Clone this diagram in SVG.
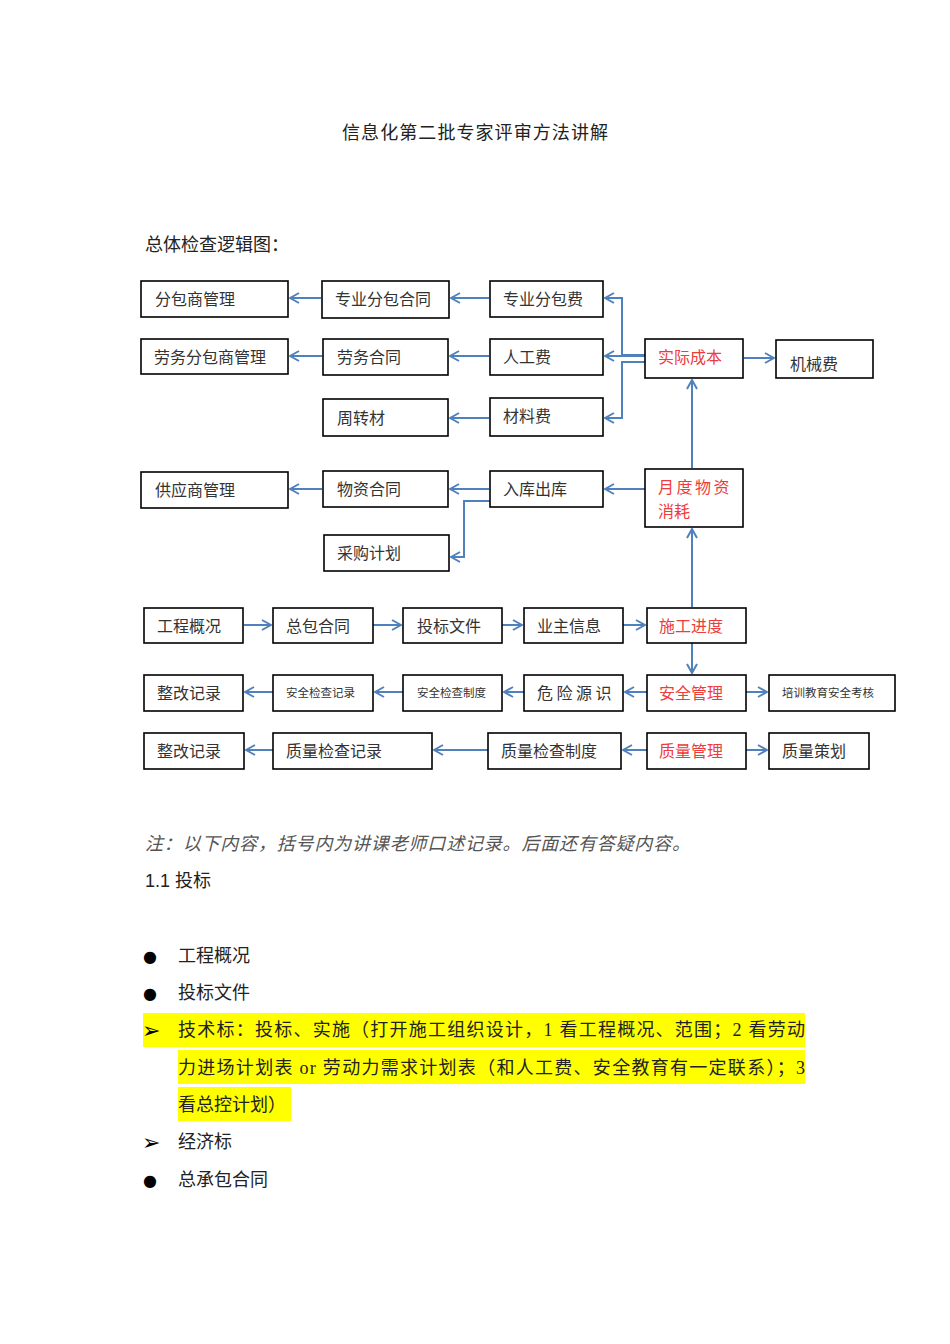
<svg xmlns="http://www.w3.org/2000/svg" width="950" height="1344" viewBox="0 0 950 1344">
<defs>
<style>
text{font-family:"Liberation Serif","Noto Sans CJK SC",serif;}
.box{fill:#fff;stroke:#000;stroke-width:1.6;}
.t{font-size:16px;fill:#333;}
.r{font-size:16px;fill:#ee3b3b;}
.s{font-size:11.5px;fill:#333;}
.c{fill:none;stroke:#4f81bd;stroke-width:2;marker-end:url(#ah);}
.p{font-size:18px;fill:#222;}
.hl{fill:#ffff00;}
.b{font-size:16px;fill:#000;font-family:"DejaVu Sans",sans-serif;}
.a{font-size:22px;fill:#000;font-family:"DejaVu Sans",sans-serif;}
</style>
<marker id="ah" viewBox="0 0 12 12" refX="11" refY="6" markerWidth="12" markerHeight="12" markerUnits="userSpaceOnUse" orient="auto">
<path d="M2,1 L11,6 L2,11" fill="none" stroke="#4f81bd" stroke-width="2"/>
</marker>
</defs>
<rect width="950" height="1344" fill="#fff"/>
<text x="475" y="139" text-anchor="middle" class="p" textLength="266" lengthAdjust="spacing">信息化第二批专家评审方法讲解</text>
<text x="145" y="251" class="p">总体检查逻辑图：</text>

<g id="connectors">
<path class="c" d="M321,298 H290"/>
<path class="c" d="M489,298 H451"/>
<path class="c" d="M322,356 H290"/>
<path class="c" d="M489,356 H450"/>
<path class="c" d="M489,418 H450"/>
<path class="c" d="M645,355 H622 V298 H605"/>
<path class="c" d="M645,356 H605"/>
<path class="c" d="M645,362 H622 V418 H605"/>
<path class="c" d="M744,358 H774"/>
<path class="c" d="M692,468 V380"/>
<path class="c" d="M645,489 H605"/>
<path class="c" d="M489,489 H450"/>
<path class="c" d="M322,489 H290"/>
<path class="c" d="M490,501 H464 V557 H451"/>
<path class="c" d="M692,607 V529"/>
<path class="c" d="M244,625 H271"/>
<path class="c" d="M373,625 H401"/>
<path class="c" d="M502,625 H522"/>
<path class="c" d="M623,625 H645"/>
<path class="c" d="M692,643 V673"/>
<path class="c" d="M647,692 H625"/>
<path class="c" d="M524,692 H504"/>
<path class="c" d="M403,692 H375"/>
<path class="c" d="M273,692 H245"/>
<path class="c" d="M746,692 H767"/>
<path class="c" d="M647,750 H623"/>
<path class="c" d="M488,750 H434"/>
<path class="c" d="M273,750 H246"/>
<path class="c" d="M746,750 H767"/>
</g>

<g id="n-fenbaoshang"><rect class="box" x="141" y="281" width="147" height="36"/><text class="t" x="155" y="305">分包商管理</text></g>
<g id="n-zhuanyehetong"><rect class="box" x="322" y="281" width="127" height="37"/><text class="t" x="335" y="305">专业分包合同</text></g>
<g id="n-zhuanyefei"><rect class="box" x="490" y="281" width="113" height="36"/><text class="t" x="503" y="305">专业分包费</text></g>
<g id="n-laowufenbao"><rect class="box" x="141" y="339" width="147" height="35"/><text class="t" x="154" y="363">劳务分包商管理</text></g>
<g id="n-laowuhetong"><rect class="box" x="323" y="339" width="125" height="36"/><text class="t" x="337" y="363">劳务合同</text></g>
<g id="n-rengongfei"><rect class="box" x="490" y="339" width="113" height="36"/><text class="t" x="503" y="363">人工费</text></g>
<g id="n-zhouzhuancai"><rect class="box" x="323" y="399" width="125" height="37"/><text class="t" x="337" y="424">周转材</text></g>
<g id="n-cailiaofei"><rect class="box" x="490" y="398" width="113" height="38"/><text class="t" x="503" y="422">材料费</text></g>
<g id="n-shijichengben"><rect class="box" x="645" y="339" width="98" height="39"/><text class="r" x="658" y="363">实际成本</text></g>
<g id="n-jixiefei"><rect class="box" x="776" y="340" width="97" height="38"/><text class="t" x="790" y="370">机械费</text></g>
<g id="n-gongyingshang"><rect class="box" x="141" y="472" width="147" height="36"/><text class="t" x="155" y="496">供应商管理</text></g>
<g id="n-wuzihetong"><rect class="box" x="323" y="471" width="125" height="36"/><text class="t" x="337" y="495">物资合同</text></g>
<g id="n-rukuchuku"><rect class="box" x="490" y="471" width="113" height="36"/><text class="t" x="503" y="495">入库出库</text></g>
<g id="n-caigoujihua"><rect class="box" x="324" y="535" width="125" height="36"/><text class="t" x="337" y="559">采购计划</text></g>
<g id="n-yuedu"><rect class="box" x="645" y="469" width="98" height="58"/><text class="r" x="658" y="493" letter-spacing="2.5">月度物资</text><text class="r" x="658" y="517">消耗</text></g>
<g id="n-gongchenggaikuang"><rect class="box" x="144" y="608" width="99" height="35"/><text class="t" x="157" y="632">工程概况</text></g>
<g id="n-zongbaohetong"><rect class="box" x="273" y="608" width="100" height="35"/><text class="t" x="286" y="632">总包合同</text></g>
<g id="n-toubiaowenjian"><rect class="box" x="403" y="608" width="99" height="35"/><text class="t" x="417" y="632">投标文件</text></g>
<g id="n-yezhuxinxi"><rect class="box" x="524" y="608" width="99" height="35"/><text class="t" x="537" y="632">业主信息</text></g>
<g id="n-shigongjindu"><rect class="box" x="647" y="608" width="99" height="35"/><text class="r" x="659" y="632">施工进度</text></g>
<g id="n-zhenggai1"><rect class="box" x="144" y="675" width="99" height="36"/><text class="t" x="157" y="699">整改记录</text></g>
<g id="n-anquanjilu"><rect class="box" x="273" y="675" width="100" height="36"/><text class="s" x="286" y="697">安全检查记录</text></g>
<g id="n-anquanzhidu"><rect class="box" x="403" y="675" width="99" height="36"/><text class="s" x="417" y="697">安全检查制度</text></g>
<g id="n-weixianyuan"><rect class="box" x="524" y="675" width="99" height="36"/><text class="t" x="537" y="699" letter-spacing="3.5">危险源识</text></g>
<g id="n-anquanguanli"><rect class="box" x="647" y="675" width="99" height="36"/><text class="r" x="659" y="699">安全管理</text></g>
<g id="n-peixun"><rect class="box" x="769" y="675" width="126" height="36"/><text class="s" x="782" y="697">培训教育安全考核</text></g>
<g id="n-zhenggai2"><rect class="box" x="144" y="733" width="100" height="36"/><text class="t" x="157" y="757">整改记录</text></g>
<g id="n-zhiliangjilu"><rect class="box" x="273" y="733" width="159" height="36"/><text class="t" x="286" y="757">质量检查记录</text></g>
<g id="n-zhiliangzhidu"><rect class="box" x="488" y="733" width="133" height="36"/><text class="t" x="501" y="757">质量检查制度</text></g>
<g id="n-zhiliangguanli"><rect class="box" x="647" y="733" width="99" height="36"/><text class="r" x="659" y="757">质量管理</text></g>
<g id="n-zhiliangcehua"><rect class="box" x="769" y="733" width="100" height="36"/><text class="t" x="782" y="757">质量策划</text></g>

<text x="145" y="850" font-size="18" fill="#555" font-style="italic" textLength="545" lengthAdjust="spacing">注：以下内容，括号内为讲课老师口述记录。后面还有答疑内容。</text>
<text x="145" y="887" class="p"><tspan style="font-family:'Liberation Sans',sans-serif">1.1 </tspan>投标</text>

<rect class="hl" x="143" y="1013" width="662" height="34"/>
<rect class="hl" x="178" y="1050" width="627" height="34"/>
<rect class="hl" x="178" y="1087" width="113" height="34"/>

<text x="143" y="962" class="b">●</text>
<text x="178" y="962" class="p">工程概况</text>
<text x="143" y="999" class="b">●</text>
<text x="178" y="999" class="p">投标文件</text>
<text x="142" y="1038" class="a">➢</text>
<text x="178" y="1036" class="p" textLength="627" lengthAdjust="spacing">技术标：投标、实施（打开施工组织设计，1 看工程概况、范围；2 看劳动</text>
<text x="178" y="1074" class="p" textLength="627" lengthAdjust="spacing">力进场计划表 or 劳动力需求计划表（和人工费、安全教育有一定联系）；3</text>
<text x="178" y="1111" class="p">看总控计划）</text>
<text x="142" y="1150" class="a">➢</text>
<text x="178" y="1148" class="p">经济标</text>
<text x="143" y="1186" class="b">●</text>
<text x="178" y="1186" class="p">总承包合同</text>
</svg>
